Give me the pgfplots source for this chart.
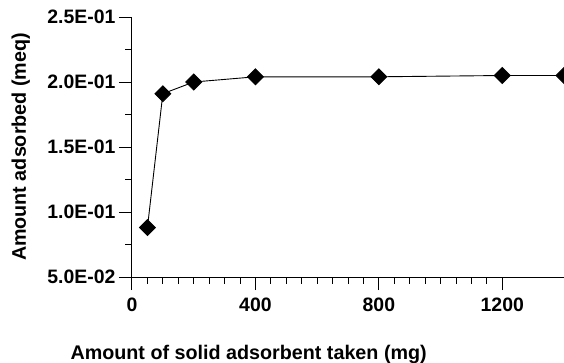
\documentclass[border=0pt]{standalone}
\usepackage{fontspec}
\setmainfont{Liberation Sans}
\usepackage{pgfplots}
\pgfplotsset{compat=1.18}
\begin{document}
\begin{tikzpicture}
\begin{axis}[
 scale only axis, width=432bp, height=260bp,
 xmin=0, xmax=1400, ymin=0.05, ymax=0.25,
 axis lines*=left,
 tick align=outside,
 xtick={0,400,800,1200}, minor x tick num=7,
 xticklabel style={/pgf/number format/1000 sep={}, yshift=-4bp},
 ytick={0.05,0.1,0.15,0.2,0.25}, yticklabels={5.0E-02,1.0E-01,1.5E-01,2.0E-01,2.5E-01},
 minor y tick num=1,
 major tick length=13bp, minor tick length=6.5bp,
 every tick/.style={black, line width=1bp},
 axis line style={black, line width=1bp},
 tick label style={font=\fontsize{19.5}{21}\selectfont\bfseries},
 label style={font=\fontsize{19.8}{22}\selectfont\bfseries},
 /pgf/number format/assume math mode=true,
 /pgf/number format/1000 sep={},
 xlabel={Amount of solid adsorbent taken (mg)},
 ylabel={Amount adsorbed (meq)},
 xlabel style={at={(axis description cs:0.27,-0.3154)}, anchor=base},
 ylabel style={at={(axis description cs:-0.2454,0.5)}, anchor=base},
 clip marker paths=true,
]
\addplot[black, line width=0.9bp, mark=square*, mark size=5.6bp, mark options={rotate=45, solid, fill=black}] coordinates {(50,0.088)(100,0.191)(200,0.200)(400,0.204)(800,0.204)(1200,0.205)(1400,0.205)};
\coordinate (bl) at (rel axis cs:-0.30556,-0.33077);
\coordinate (tr) at (rel axis cs:1,1.06538);
\end{axis}
\pgfresetboundingbox
\path[use as bounding box] (bl) rectangle (tr);
\end{tikzpicture}
\end{document}
